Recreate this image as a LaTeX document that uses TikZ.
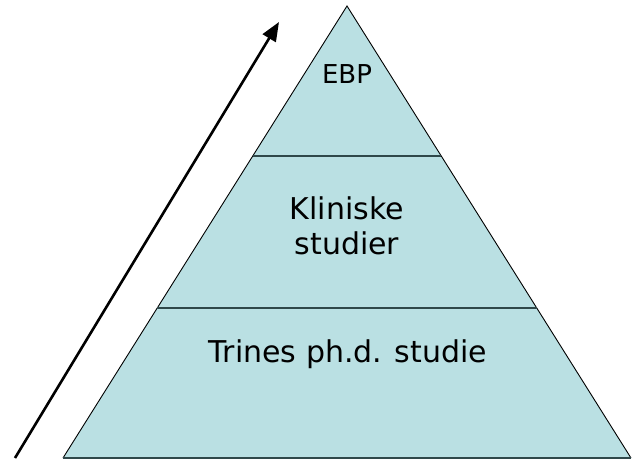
\documentclass[tikz,border=0pt]{standalone}
\usepackage{fontspec}
\setmainfont{DejaVu Sans}
\usetikzlibrary{arrows.meta,calc}
\definecolor{pyrfill}{RGB}{186,224,227}
\definecolor{pyrline}{RGB}{47,72,74}

\begin{document}
\begin{tikzpicture}[x=1pt, y=-1pt, every node/.style={inner sep=0pt, align=center},
    level/.style={font=\fontsize{30}{35}\selectfont},
    divider/.style={draw=pyrline, line width=1.8pt}]
  \useasboundingbox (0,0) rectangle (633,461);
  \coordinate (apex) at (347,6);
  \coordinate (bl) at (63,458);
  \coordinate (br) at (631,458);
  % pyramid
  \fill[pyrfill] (apex) -- (br) -- (bl) -- cycle;
  \draw[line width=0.9pt] (bl) -- (apex) -- (br);
  \draw[divider] (bl) -- (br);
  \draw[divider] ($(apex)!0.332!(bl)$) -- ($(apex)!0.332!(br)$);
  \draw[divider] ($(apex)!0.668!(bl)$) -- ($(apex)!0.668!(br)$);
  % levels
  \node[font=\fontsize{26}{30}\selectfont] (ebp) at (347,74) {EBP};
  \node[level] (klin) at (347,226) {Kliniske\\studier};
  \node[level] (trine) at (348,354) {Trines ph.d. studie};
  % arrow
  \coordinate (from) at (15,458);
  \coordinate (to) at (279,22);
  \draw[line width=2.6pt, -{Triangle[length=19pt,width=15pt]}] (from) -- (to);
\end{tikzpicture}
\end{document}
